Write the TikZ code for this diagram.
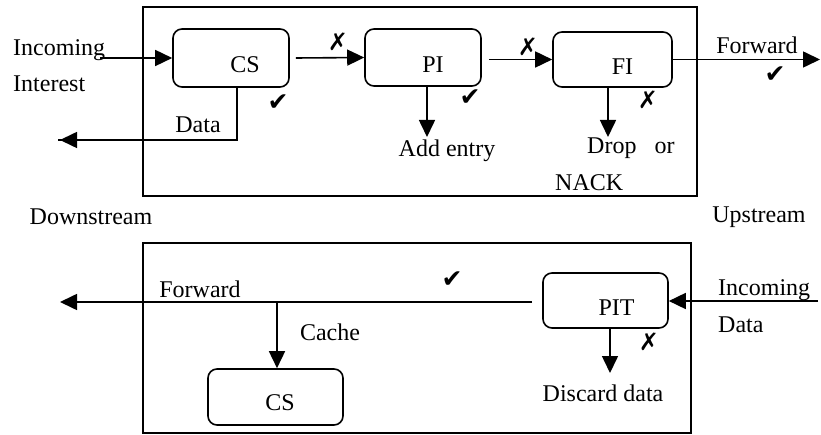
\documentclass[tikz,border=0pt]{standalone}
\usepackage{fontspec}
\setmainfont{Liberation Serif}
\newfontfamily\symfont{DejaVu Sans}
\usetikzlibrary{arrows.meta}
\tikzset{
  lbl/.style={inner sep=0pt, font=\fontsize{24}{28}\selectfont},
  outerbox/.style={draw, line width=1.9pt},
  tablebox/.style={draw, line width=1.6pt, rounded corners=9pt},
  arr/.style={line width=1.6pt, -{Triangle[length=17pt,width=16pt]}},
  ln/.style={line width=1.6pt},
  okmark/.style={inner sep=0pt, font=\symfont\fontsize{25}{28}\selectfont},
  nomark/.style={inner sep=0pt, font=\symfont\bfseries\fontsize{24}{26}\selectfont},
}
\begin{document}
\begin{tikzpicture}[x=1pt,y=-1pt]
\useasboundingbox (0,0) rectangle (821,435);
% outer boxes
\draw[outerbox] (143,7) rectangle (697,196);
\draw[outerbox] (143,243) rectangle (691,433);
% top tables
\node[tablebox, minimum width=116pt, minimum height=58pt, label={[lbl,xshift=14pt,yshift=-7pt]center:CS}] (cs) at (231,58) {};
\node[tablebox, minimum width=116pt, minimum height=57pt, label={[lbl,xshift=10pt,yshift=-7pt]center:PI}] (pi) at (423,57.5) {};
\node[tablebox, minimum width=119pt, minimum height=55pt, label={[lbl,xshift=10pt,yshift=-7pt]center:FI}] (fi) at (612.5,59.5) {};
% top texts
\node[lbl, anchor=west] (inc1) at (13,50) {Incoming};
\node[lbl, anchor=west] (inc2) at (13,84) {Interest};
\node[lbl] (datat) at (198,125) {Data};
\node[lbl] (add) at (447,151) {Add entry};
\node[lbl, anchor=west] (drop) at (587,148) {Drop\hspace{18pt}or};
\node[lbl, anchor=west] (nack) at (555,183) {NACK};
\node[lbl] (fwd1) at (757,45) {Forward};
\node[lbl] (down) at (91,217) {Downstream};
\node[lbl] (up) at (759,217) {Upstream};
\coordinate (instart) at (100,58);
\coordinate (dataend) at (60,140);
\coordinate (fwdend) at (820,59.5);
\coordinate (addtip) at (427,137);
\coordinate (droptip) at (608,137);
% top connectors
\draw[arr] (instart) -- (cs.west);
\draw[ln] ([xshift=6pt]cs.south) |- ([xshift=-2pt]dataend);
\draw[arr] ([xshift=6pt]cs.south |- dataend) -- (dataend);
\draw[arr] ([xshift=6pt]cs.east) -- (pi.west);
\draw[arr] ([xshift=7pt]pi.east |- fi.west) -- (fi.west);
\draw[arr] (pi.south -| addtip) -- (addtip);
\draw[arr] (fi.south -| droptip) -- (droptip);
\draw[arr] (fi.east) -- (fwdend);
% top marks
\node[okmark] (ok1) at (278,103) {✔};
\node[okmark] (ok2) at (470,98) {✔};
\node[okmark] (ok3) at (775,75) {✔};
\node[nomark] (no1) at (338,42) {✗};
\node[nomark] (no2) at (528,47) {✗};
\node[nomark] (no3) at (648,100) {✗};
% bottom tables
\node[tablebox, minimum width=125pt, minimum height=55pt, label={[lbl,xshift=11pt,yshift=-7pt]center:PIT}] (pit) at (605.5,300.5) {};
\node[tablebox, minimum width=135pt, minimum height=56pt, label={[lbl,xshift=4.5pt,yshift=-6pt]center:CS}] (cs2) at (275.5,397) {};
% bottom texts
\node[lbl] (fwd2) at (200,289) {Forward};
\node[lbl] (cache) at (330,332) {Cache};
\node[lbl, anchor=west] (inc3) at (718,290) {Incoming};
\node[lbl, anchor=west] (dat2) at (718,325) {Data};
\node[lbl] (disc) at (603,393) {Discard data};
\coordinate (fwd2end) at (60,302);
\coordinate (indstart) at (818,301);
\coordinate (disctip) at (610,373);
% bottom connectors
\draw[arr] ([xshift=-10pt]pit.west |- fwd2end) -- (fwd2end);
\draw[arr] ([xshift=1.5pt]cs2.north |- fwd2end) -- ([xshift=1.5pt]cs2.north);
\draw[arr] (indstart) -- (pit.east |- indstart);
\draw[arr] (pit.south -| disctip) -- (disctip);
\node[okmark] (ok4) at (452,280) {✔};
\node[nomark] (no4) at (649,342) {✗};
\end{tikzpicture}
\end{document}
